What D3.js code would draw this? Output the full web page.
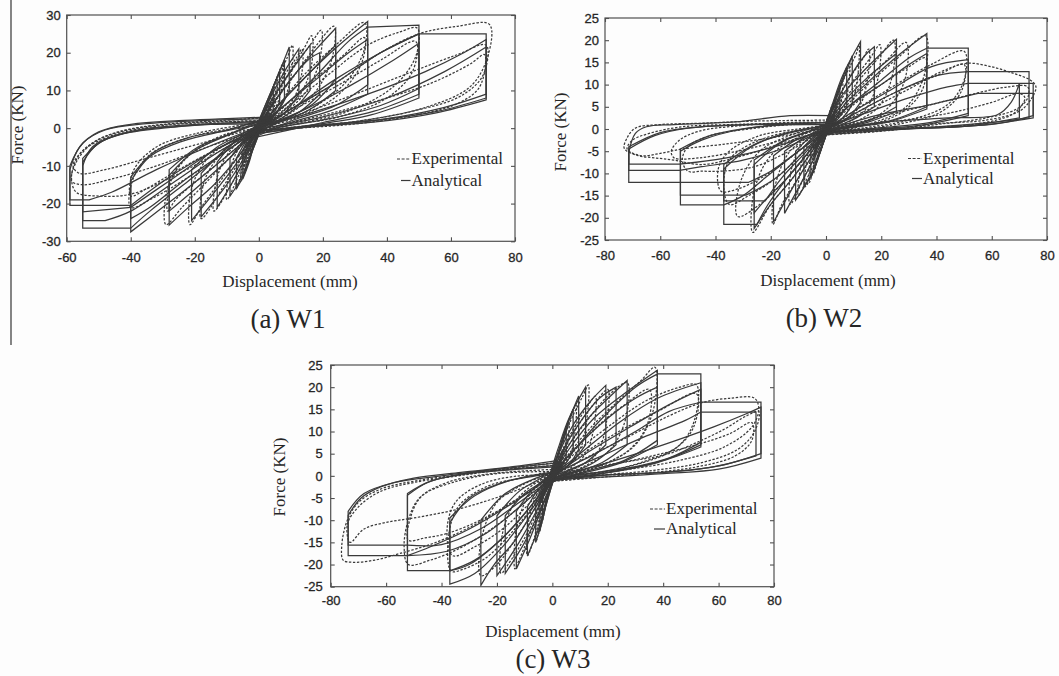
<!DOCTYPE html>
<html>
<head>
<meta charset="utf-8">
<script src="https://cdn.jsdelivr.net/npm/d3@7"></script>
<style>
  body { margin: 0; background: #fff; }
</style>
</head>
<body>
<script>
// tick values
var w1xTicks = [-60, -40, -20, 0, 20, 40, 60, 80];
var w1yTicks = [-30, -20, -10, 0, 10, 20, 30];
var w23xTicks = [-80, -60, -40, -20, 0, 20, 40, 60, 80];
var w23yTicks = [-25, -20, -15, -10, -5, 0, 5, 10, 15, 20, 25];

var panelTitles = ['(a) W1', '(b) W2', '(c) W3'];
var legendLabels = ['Experimental', 'Analytical'];
var xTitle = 'Displacement (mm)';
var yTitle = 'Force (KN)';

// each loop branch ("petal") = list of smooth pieces [x0,y0, x1,y1, ...] (mm, kN),
// pieces are joined by straight lines (unloading drops, plateaus)
var w1Analytical = [
  [[-4,-7, 1,3, 3,7, 4.5,11], [4.5,5, 3,2, 0,-1, -3,-4]],
  [[-5,-8, 1,4, 4,10, 6.5,15], [6.5,7, 4,3, 1,0, -3,-3]],
  [[-4,-6, 2,5, 5,12, 8,18], [8,8, 5,3.5, 1,0, -2,-3]],
  [[-3,-5, 2,6, 6,14, 9.5,21.5], [9.5,10, 6,4.5, 2,1, -2,-3]],
  [[-2,-3, 3,7, 8,15, 12.5,21], [12.5,9, 8,4, 3,1, -1,-2]],
  [[-4,-6, 3,6, 9,14, 16,22], [16,10, 11,5, 5,1.5, -2,-2]],
  [[-3,-4, 4,6, 10,13, 16,18.5, 19,20], [19,9, 13,4.5, 6,1.5, 0,-1]],
  [[-3,-3, 4,6, 11,14, 18,21, 24,26.5], [24,13, 17,6.5, 8,2.5, -1,-1.5]],
  [[-2,-1.5, 6,6, 14,13, 24,22], [24,10, 16,5, 8,2, 1,0.5]],
  [[-1,-1, 6,6, 15,14, 25,22, 34,28.3], [34,11.5, 24,6, 12,2.5, -2,-2]],
  [[-3,-2, 8,6, 18,13, 28,20, 34,23.5], [34,9, 22,4.5, 10,1.5, -3,-3]],
  [[-4,-2, 8,6, 18,14, 28,23, 34,26.8], [50,27.3], [50,10.5, 38,6, 22,2.5, 8,0.5, -1,-1]],
  [[-2,-1, 10,5, 24,12, 38,20, 50,25], [50,9, 36,4.5, 20,1.5, -4,-3]],
  [[-1,0, 12,4, 28,11, 42,18, 50,22.5], [50,8, 35,3.5, 18,1, -2,-1]],
  [[-3,-1, 10,5, 24,13, 38,20, 50,25], [71,25], [71,9, 58,5.5, 40,2.5, 20,0.8, -5,-2]],
  [[0,0.5, 16,4, 34,9, 52,15, 64,20, 71,23.5], [71,8, 56,4.5, 36,2, 18,0.5, -3,-1]],
  [[-2,-0.5, 20,3, 40,8, 58,15, 71,21.5], [71,7.5, 55,4, 35,1.5, 15,0.3, -6,-2]],
  [[4,7, -1,-3, -3,-8, -4,-11], [-4,-5, -2,-2, 1,1, 3,4]],
  [[5,8, -1,-3, -3,-9, -5,-13.5], [-5,-6, -3,-2.5, 1,1, 3,3]],
  [[3,5, -2,-6, -5,-13, -7,-16], [-7,-8, -4,-3.5, -1,-0.5, 2,3]],
  [[2,3, -2,-6, -6,-14, -9,-18], [-9,-8, -5,-3.5, -1,-0.5, 1,2]],
  [[4,6, -3,-6, -8,-14, -13,-21], [-13,-9, -8,-4, -3,-1, 2,2]],
  [[3,4, -4,-7, -10,-15, -18,-23.5], [-18,-12, -11,-6, -5,-2, 0,1]],
  [[2,2, -5,-7, -12,-15, -21,-24.5], [-21,-11, -13,-5, -5,-1.5, 1,1.5]],
  [[1,1.5, -6,-7, -14,-15, -22,-21, -28,-25.7], [-28,-12.5, -20,-6, -10,-2, 2,2]],
  [[0,1, -8,-7, -17,-14, -28,-22], [-28,-11, -19,-5, -9,-1.5, 3,3]],
  [[3,2, -8,-6, -18,-13, -30,-21, -40,-27.5], [-40,-14, -34,-7.5, -24,-3.5, -12,-1, 1,1]],
  [[4,2, -10,-6, -22,-13, -34,-21, -40,-24], [-40,-13, -33,-6.5, -22,-2.5, -10,-0.5, 4,3]],
  [[2,1, -10,-6, -22,-14, -34,-22, -40,-26.5], [-55,-26.5], [-55,-10, -52,-5, -45,-2, -30,0, -15,1, 2,1]],
  [[1,0, -12,-6, -26,-14, -40,-22, -48,-24.5], [-55,-24.5], [-55,-9, -50,-4, -40,-1, -25,0.5, 3,2]],
  [[3,1, -14,-6, -28,-14, -40,-21], [-55,-22.2], [-55,-8, -49,-3.5, -38,-0.5, -20,1, 1,1.5]],
  [[2,0.5, -14,-6, -28,-13, -40,-20.5], [-59,-20.5], [-59,-11, -56,-5, -50,-1, -40,1, -25,2, -10,2.5, 4,3]],
  [[5,2, -16,-5, -32,-11, -46,-17, -53,-19], [-59,-19], [-59,-10, -55,-4, -48,-0.5, -35,1.2, -18,2, 2,2.5]]
];

var w1Experimental = [
  [[-4,-6, 1,3, 4,9, 5.5,13, 5.5,8, 4,4, 1,0.5, -3,-4]],
  [[-5,-7, 2,5, 5,12, 7.5,17, 7,10, 5,5, 1,0.5, -2,-3]],
  [[-3,-4, 2,5, 6,13, 9,19, 10.5,22, 10.5,17, 9,10, 6,5, 2,1.5, -2,-2]],
  [[-2,-3, 3,6, 8,14, 12,19, 13.5,21, 13.5,15, 11,8, 7,4, 2,1, -3,-3]],
  [[-4,-5, 3,6, 9,14, 14,21, 16.5,24.5, 16.5,17, 13,9, 7,4, 2,1, -1,-2]],
  [[-2,-2, 4,7, 10,15, 16,22, 19.5,26, 19,18, 15,10, 8,4, 2,1, -2,-1]],
  [[-3,-3, 5,7, 12,15, 18,22, 23.5,27, 23,19, 18,10, 10,4, 3,1, 0,-1]],
  [[-1,-1, 6,6, 14,14, 24,22, 33,28, 33,21, 27,12, 16,5, 6,1.5, -3,-2]],
  [[-2,-2, 7,5, 16,12, 26,19, 33,24, 32,17, 25,9, 14,3.5, 5,1, -1,0]],
  [[-3,-2, 8,5, 20,13, 34,22, 44,25.5, 49.5,26.5, 49,19, 42,11, 28,4.5, 12,1.2, -2,-1]],
  [[0,0, 10,4.5, 24,11, 38,18, 49,23, 48,15, 40,8, 25,3, 10,0.8, -4,-2]],
  [[-2,-1, 10,5, 24,12, 38,20, 50,25, 62,27, 72,27.5, 71.5,19, 66,11, 52,5.5, 32,2, 14,0.5, -3,-1]],
  [[-1,0, 14,4, 30,9, 48,15, 62,19.5, 71,22, 70,14, 63,8.5, 48,4.5, 28,1.5, 10,0.2, -5,-2]],
  [[-3,-1, 18,3, 36,7, 54,12, 66,17, 70.5,19.5, 69,11, 62,6.5, 46,3, 26,0.8, -2,-0.5]],
  [[4,6, -1,-3, -3,-8, -4.5,-12, -4,-6, -2,-2, 1,1, 3,4]],
  [[5,7, -1,-3, -4,-10, -5.5,-14, -5,-7, -3,-3, 1,0.5, 2,3]],
  [[3,4, -2,-5, -5,-11, -7,-16, -6.5,-10, -4,-4.5, -1,-1, 2,2]],
  [[2,3, -2,-5, -6,-12, -10,-19, -9,-11, -6,-5, -2,-1, 3,3]],
  [[4,5, -3,-6, -8,-14, -14,-22, -13,-13, -9,-6, -3,-1.5, 1,1]],
  [[2,2, -4,-6, -10,-14, -18,-24, -17,-14, -12,-7, -5,-2, 2,1]],
  [[3,3, -5,-6, -12,-14, -18,-21, -21.5,-25.6, -21,-16, -16,-8, -7,-2.5, 0,1]],
  [[1,1, -7,-6, -16,-14, -24,-21, -29,-25.6, -28.5,-16, -23,-8, -12,-2.5, 3,2]],
  [[2,2, -8,-6, -18,-13, -26,-19, -28.5,-22, -27,-13, -20,-6, -10,-1.5, 1,0]],
  [[3,2, -10,-6, -22,-13, -33,-18.5, -40,-21, -39.5,-14, -34,-7, -22,-2.5, -10,-0.3, 2,1]],
  [[0,0, -12,-5, -25,-11, -35,-16, -40,-18, -39,-11, -32,-5, -20,-1.5, 4,2]],
  [[2,1, -12,-6, -26,-12.5, -40,-17.5, -50,-18, -57,-17, -58.5,-13, -56,-7, -50,-3, -38,0, -20,1.5, 3,2]],
  [[1,0, -16,-5, -32,-10, -46,-13.5, -55,-15, -58.5,-14, -57,-9, -52,-4, -44,-1, -30,1, -12,2, 5,3]],
  [[3,1, -18,-4, -35,-8, -48,-11, -56,-12, -58,-10, -55,-6, -46,-2, -32,0.5, -16,1.5, 2,2]]
];

var w2Analytical = [
  [[-4,-6, 1,3, 3,6, 5,10], [5,4, 3,1.5, 0,-1, -3,-4]],
  [[-5,-7, 1,3, 4,8, 7.5,14], [7.5,5, 4,2, 1,0, -3,-3]],
  [[-4,-5, 2,4, 5,9, 9.5,16.5], [9.5,5.5, 6,2.5, 1,0, -2,-3]],
  [[-3,-4, 2,5, 6,12, 12.5,19.7], [12.5,6, 8,2.5, 3,0.5, -2,-2]],
  [[-2,-3, 3,5, 8,11, 14,16.5, 17.5,18.5], [17.5,5, 11,2.5, 4,0.5, -1,-2]],
  [[-4,-5, 4,6, 12,12, 20,17, 25.5,20.2], [25.5,5, 16,2, 6,0.5, -2,-1]],
  [[-2,-2, 5,5, 14,11, 25.5,17], [25.5,4, 15,1.5, 5,0.2, 0,-1]],
  [[-1,-1, 6,5, 16,11, 27,17, 36.5,21.5], [36.5,5, 24,2, 10,0.5, -3,-2]],
  [[-3,-2, 8,5, 20,10, 30,14.5, 36.5,17], [36.5,4.5, 22,1.5, 8,0.3, -1,-1]],
  [[-2,-1, 8,5, 20,11, 30,16, 36.5,18.2], [51.5,18.2], [51.5,3.5, 38,1.5, 20,0.3, -3,-1]],
  [[0,0, 10,4, 24,9, 38,14, 51.5,15.6], [51.5,3, 36,1, 18,0, -2,-1]],
  [[-2,-1, 12,4, 26,8.5, 40,12, 51.5,12.9], [73.5,12.9], [73.5,2.5, 60,1.5, 40,0.5, 20,0, -4,-1]],
  [[-1,0, 14,3.5, 30,7, 44,9.5, 51.5,10.3], [75,10.3], [75,3, 62,1.2, 40,0.3, -2,-0.5]],
  [[-3,-1, 18,3, 38,5.5, 55,8], [75,8], [75,2.5, 55,0.8, 30,0, -5,-1.5]],
  [[-1,-0.5, 20,1.5, 44,2.5, 62,3.2, 67,6, 70,10.3], [70,2.5, 50,0.6, 25,0, -3,-1]],
  [[4,6, -1,-3, -3,-6, -4,-9], [-4,-4, -2,-1.5, 1,1, 3,4]],
  [[5,7, -1,-3, -3,-7, -5.5,-11], [-5.5,-4.5, -3,-2, 1,0.5, 3,3]],
  [[3,4, -2,-5, -5,-10, -8,-13], [-8,-4, -4,-1.5, 0,0, 2,3]],
  [[2,3, -2,-5, -6,-11, -11,-16], [-11,-5, -6,-2, -1,0, 1,2]],
  [[4,5, -3,-5, -8,-11, -15,-19], [-15,-5, -8,-2, -2,0, 2,1]],
  [[2,2, -4,-5, -10,-11, -19,-21], [-19,-6, -11,-2.5, -3,-0.5, 0,1]],
  [[1,1, -5,-5, -12,-11, -20,-17, -26,-22.4], [-26,-8, -16,-3, -6,-0.5, 3,2]],
  [[3,2, -6,-5, -14,-11, -22,-16, -26,-18.9], [-26,-7, -15,-2.5, -5,-0.3, 1,1]],
  [[2,1, -6,-5, -14,-11, -21,-17, -25,-21.5], [-37,-21.5], [-37,-9, -27,-4, -15,-1, 3,1]],
  [[0,0, -7,-5, -16,-11, -22,-16.2], [-37,-16.2], [-37,-8, -26,-3.5, -14,-1, 2,1]],
  [[2,1, -8,-5, -18,-11, -29,-14.9], [-52.7,-14.9], [-52.7,-5, -45,-2.5, -30,0, -15,1, 4,1.5]],
  [[1,0, -10,-5, -22,-11, -30,-15, -37,-17.1], [-52.7,-17.1], [-52.7,-4.5, -42,-1.5, -25,0.5, -10,1, 2,1]],
  [[3,1, -10,-5, -20,-9.5, -28,-12], [-71.4,-12], [-71.4,-5.3, -69,-1, -65,0.5, -55,1, -33,1.6, -13,3, 2,3]],
  [[1,0.5, -14,-4, -30,-7, -45,-8.5, -53,-9.3], [-71.4,-9.3], [-71.4,-4.5, -62,-1.5, -50,0.2, -30,1, 3,1.5]],
  [[4,1, -16,-3.5, -36,-6.5, -53,-7.9], [-71.4,-7.9], [-71.4,-4, -60,-0.8, -45,0.5, -25,1, 1,1]]
];

var w2Experimental = [
  [[-4,-5, 1,3, 4,7, 6,11, 5.5,6, 4,3, 1,0, -3,-4]],
  [[-5,-6, 2,4, 5,9, 8.5,15, 8,9, 6,4, 1,0.5, -2,-3]],
  [[-3,-4, 2,5, 7,12, 11,17, 12,19, 11.5,12, 9,5, 5,2, 1,0.5, -2,-2]],
  [[-2,-3, 3,5, 8,11, 13,15.5, 15.5,18, 15,11, 12,5, 6,1.5, 1,0.3, -3,-2]],
  [[-4,-4, 4,5, 10,11, 16,16, 19.5,19, 19,12, 15,5, 8,1.5, 2,0.3, -1,-1]],
  [[-1,-1, 5,5, 12,11, 19,16, 24.5,20, 24,12, 19,5, 10,1.5, 3,0.2, -2,-1]],
  [[-2,-2, 6,5, 14,10.5, 22,15.5, 29,19.5, 28.5,11, 22,4.5, 12,1.2, 0,-0.5]],
  [[0,0, 7,5, 16,10.5, 26,16, 36,21, 35.5,12, 29,5, 16,1.2, -3,-1.5]],
  [[-3,-2, 8,4.5, 20,10, 30,14, 36,16, 35,9, 28,4, 16,1, -1,0]],
  [[-1,-1, 10,4, 24,9.5, 38,14.5, 50,17.5, 50,11, 44,5.5, 30,2, 14,0.3, -2,-1]],
  [[-2,-1, 12,4, 26,8.5, 40,12, 50,14.5, 49,8.5, 42,4, 28,1.3, -4,-1]],
  [[-1,0, 14,4, 30,9, 42,13, 51,14.8, 60,14, 68,12.5, 74,11, 76,9.5, 74,6.5, 70,4, 58,2, 40,1.2, 22,-0.3, -2,-1]],
  [[-3,-1, 18,2.5, 38,5.5, 54,8, 66,9.5, 73,9.5, 73,7, 69,4.5, 58,2.5, 40,1, 20,-0.5, -5,-1.5]],
  [[-2,-0.5, 22,1.5, 44,3.5, 60,6, 70,8, 72,7, 68,3.5, 55,1.2, 35,0.3, 15,-0.5, -3,-1]],
  [[4,5, -1,-3, -3,-6, -4.5,-10, -4,-5, -2,-2, 1,1, 3,4]],
  [[5,6, -1,-3, -4,-8, -6,-12, -5.5,-6, -3,-2.5, 1,0.5, 2,3]],
  [[3,4, -2,-5, -5,-10, -7.5,-13, -7,-7, -5,-3, -1,-0.5, 2,2]],
  [[2,3, -2,-5, -6,-10, -10,-15, -9,-8, -6,-3, -1,-0.5, 3,2]],
  [[4,4, -3,-5, -8,-11, -13,-17, -12.5,-9, -8,-3, -2,-0.5, 1,1]],
  [[1,1, -4,-5, -10,-11, -16,-17, -19.2,-21.5, -18.5,-13, -13,-5, -4,-1, 2,1]],
  [[2,2, -5,-5, -12,-11, -20,-17, -26.5,-23.3, -26,-14, -20,-6, -9,-1.5, 0,0.5]],
  [[0,0, -6,-5, -14,-11, -24,-17, -32,-19.7, -31,-12, -24,-5, -12,-1.2, 3,1.5]],
  [[3,2, -8,-5, -18,-11, -28,-15, -35,-17, -37,-13, -35,-7, -26,-3, -12,-0.5, 1,0]],
  [[1,1, -10,-5, -22,-10.5, -32,-13.5, -38,-14, -39,-9, -35,-5, -24,-1.5, -10,0, 2,1]],
  [[2,1, -12,-4.5, -26,-8.5, -38,-9.5, -45,-9.5, -50,-9.5, -52,-7, -50,-4, -42,-1.5, -28,0, -12,1, 4,1]],
  [[1,0, -15,-3, -30,-6, -45,-8, -55,-7, -62,-6.5, -68,-6, -73,-4.4, -72,-2, -69,0.2, -60,1, -45,1.3, -25,1.8, 2,2]],
  [[3,1, -16,-2.5, -32,-5, -46,-6.5, -55,-6.5, -56,-5, -53,-2.5, -46,-0.5, -30,0.8, -12,1.5, 5,1.5]],
  [[2,0.5, -20,-2, -38,-3.5, -52,-4.5, -60,-5.5, -67,-6, -72,-4.5, -70,-2.5, -64,-1, -52,0.5, -35,1, 3,1.5]]
];

var w3Analytical = [
  [[-4,-6, 1,3, 3,6.5, 5,11], [5,4.5, 3,1.5, 0,-1, -3,-4]],
  [[-5,-7, 1,3, 4,9, 7.5,15], [7.5,5.5, 4,2, 1,0, -3,-3]],
  [[-4,-5, 2,5, 5,11, 9.5,18], [9.5,6, 6,2.5, 1,0, -2,-3]],
  [[-3,-4, 2,6, 6,13, 12,20], [12,7, 7,3, 2,0.5, -2,-2]],
  [[-2,-3, 3,6, 8,12, 14,17, 19.3,20.4], [19.3,7, 12,3, 4,0.5, -1,-2]],
  [[-4,-5, 4,6, 11,13, 17,17.5, 23,20], [23,7, 15,3, 6,0.5, -2,-1]],
  [[-2,-2, 5,6, 13,13, 21,18, 27,21.5], [27,7, 18,3, 7,0.5, 0,-1]],
  [[-1,-1, 6,6, 15,13, 27,19, 37.9,23.8], [37.9,8, 26,3.5, 12,1, -3,-2]],
  [[-3,-2, 8,6, 20,13, 30,17.5, 37.9,20], [37.9,7, 25,3, 10,0.5, -1,-1]],
  [[-2,-1, 8,6, 18,13, 30,20, 38,23], [53.6,23], [53.6,7.6, 42,4, 25,1.5, 10,0.3, -3,-1]],
  [[0,0, 10,5, 24,12, 38,17.5, 53.6,21], [53.6,7, 40,3.5, 22,1, -2,-1]],
  [[-2,-1, 12,5, 28,11, 42,16, 53.6,19.5], [53.6,6.5, 38,3, 20,0.7, -4,-1.5]],
  [[-1,0, 14,4.5, 30,10, 42,14.5, 53.6,16.6], [75.3,16.6], [75.3,5, 62,2.5, 45,1, 25,0.4, -2,-0.5]],
  [[-3,-1, 16,4, 34,9, 48,12.5, 53.6,14.4], [73.5,14.4], [73.5,4.5, 58,2, 40,0.8, 20,0.2, -5,-1.5]],
  [[-1,-0.5, 20,3, 40,7, 58,11, 70,14, 75.3,15.5], [75.3,4, 60,1.5, 40,0.5, -3,-1]],
  [[4,6, -1,-3, -2.5,-7, -3.5,-10], [-3.5,-4, -2,-1.5, 1,1, 3,4]],
  [[5,7, -1,-3, -3,-8, -4.5,-12.5], [-4.5,-5, -2.5,-2, 1,0.5, 3,3]],
  [[3,4, -2,-6, -4,-11, -6,-15], [-6,-6, -3.5,-2.5, -1,-0.5, 2,3]],
  [[2,3, -2,-6, -5,-12, -9,-18], [-9,-7, -5,-3, -1,-0.5, 1,2]],
  [[4,5, -3,-6, -8,-14, -13,-21], [-13,-8, -7,-3, -2,-0.5, 2,1]],
  [[2,2, -4,-7, -10,-15, -17,-22], [-17,-9, -10,-4, -3,-1, 0,1]],
  [[1,1, -5,-7, -12,-15, -20,-22.5], [-20,-9, -12,-3.5, -4,-0.5, 3,2]],
  [[3,2, -6,-7, -14,-15, -21,-20, -25.8,-24.7], [-25.8,-10, -17,-4, -7,-0.8, 1,1]],
  [[2,1, -8,-8, -18,-16, -28,-22, -37,-24.4], [-37,-10.6, -30,-5, -18,-1.5, -6,0, 3,1]],
  [[0,0, -8,-7, -18,-14, -28,-19, -37,-21.4], [-37,-9.5, -28,-4.5, -16,-1.2, 2,1]],
  [[2,1, -8,-7, -18,-14, -30,-20, -37,-21.4], [-52.3,-21.4], [-52.3,-4.4, -45,-1.5, -32,0.5, -15,1.5, 4,2.5]],
  [[1,0, -10,-6, -24,-13, -38,-17, -52.3,-18], [-52.3,-4, -44,-1.2, -30,0.5, -12,1.5, 2,2]],
  [[3,1, -12,-6, -26,-12, -40,-15.5, -52.3,-15.6], [-73.7,-15.6], [-73.7,-8.9, -69,-5, -62,-2.5, -50,-0.5, -33,0.8, -15,2, 2,3.5]],
  [[1,0.5, -14,-6, -30,-12, -44,-16, -52.3,-18], [-73.7,-18], [-73.7,-8, -68,-4, -57,-1.5, -40,0, -20,1.5, 3,3]]
];

var w3Experimental = [
  [[-4,-5, 1,3, 4,8, 6,12, 5.5,7, 4,3, 1,0, -3,-4]],
  [[-5,-6, 2,4, 5,10, 8.5,16, 8,9, 6,4, 1,0.5, -2,-3]],
  [[-3,-4, 2,5, 7,13, 11,18, 13,20.5, 12.5,13, 10,6, 5,2, 1,0.5, -2,-2]],
  [[-2,-3, 3,5, 8,11, 13,16, 15.5,18, 15,11, 12,5, 6,1.5, -3,-2]],
  [[-4,-4, 4,6, 10,12, 16,17, 20,19.5, 19.5,12, 16,5, 8,1.5, -1,-1]],
  [[-1,-1, 5,6, 12,12, 20,18, 27,21, 26.5,13, 21,6, 11,2, -2,-1]],
  [[-2,-2, 6,5, 14,11, 24,17, 32,21.5, 37,24.5, 36.5,15, 30,7, 18,2.5, 6,0.5, 0,-0.5]],
  [[0,0, 7,5, 16,11, 26,16, 35,19.5, 34.5,12, 28,6, 16,2, -3,-1.5]],
  [[-3,-2, 8,5, 20,11, 34,17, 46,20, 52,20.5, 51.5,13, 46,7, 32,3, 16,0.8, -1,0]],
  [[-1,-1, 10,4.5, 24,10, 38,14.5, 52,18.5, 51,11, 44,6, 30,2.5, -2,-1]],
  [[-2,-1, 12,4, 28,9, 42,13.5, 54,16.5, 64,17.5, 73,17.5, 74.5,15, 72,11, 62,6.5, 46,3.5, 28,1.5, 12,0.3, -4,-1]],
  [[-1,0, 15,2, 30,3.5, 42,5, 52,7.5, 62,10.5, 70,13.5, 74.5,14.5, 73,10, 67,6, 54,3, 36,1.2, 18,0.2, -2,-1]],
  [[-3,-1, 18,2, 36,4.5, 52,7, 64,9.5, 72,12, 72,8, 66,4.5, 52,2, 32,0.5, -5,-1.5]],
  [[4,5, -1,-3, -2.5,-7, -4,-11, -3.5,-5, -2,-2, 1,1, 3,4]],
  [[5,6, -1,-3, -3,-8, -5,-13, -4.5,-6, -2.5,-2.5, 1,0.5, 2,3]],
  [[3,4, -2,-5, -4,-10, -6,-15, -5.5,-8, -3.5,-3, -1,-0.5, 2,2]],
  [[2,3, -2,-5, -5,-11, -9,-18, -8.5,-10, -5.5,-4, -1,-0.5, 3,2]],
  [[4,4, -3,-6, -8,-13, -12,-19, -13.5,-21, -13,-12, -9,-5, -3,-1, 1,1]],
  [[1,1, -4,-6, -10,-14, -16,-20, -18.5,-22, -18,-13, -13,-5.5, -5,-1.2, 2,1]],
  [[2,2, -5,-6, -12,-13, -20,-20, -25.8,-22.5, -25.5,-14, -20,-6, -9,-1.5, 0,0.5]],
  [[0,0, -6,-6, -15,-13, -24,-18.5, -32,-21, -36.5,-21.5, -37.5,-14, -34,-7, -24,-2.5, -10,-0.3, 3,1.5]],
  [[3,2, -8,-6, -18,-12, -28,-16, -36,-18, -38,-12, -35,-6, -26,-2, -12,0, 1,0]],
  [[1,1, -10,-6, -22,-12, -34,-16.5, -44,-19, -52,-20, -53.5,-16, -52,-10, -48,-5, -38,-1.5, -22,0.5, 2,1.5]],
  [[2,1, -12,-5, -26,-10, -38,-13, -46,-14, -52,-14.5, -51,-9, -47,-4.5, -36,-1.5, -20,0.5, 4,1]],
  [[1,0, -12,-5, -28,-11, -42,-15, -55,-17.5, -64,-19, -72,-19.5, -75.5,-19, -76,-15.7, -74,-10, -70,-6, -62,-3, -48,-1, -30,0.5, -12,2, 2,3]],
  [[3,1, -16,-4, -34,-7.5, -50,-9.5, -60,-10.5, -68,-12, -73,-15, -74,-11, -70,-7, -62,-3.5, -50,-1.5, -34,0, -16,1.5, 4,2.5]]
];

var svg_width = 1059;
var svg_height = 676;
var lineColor = '#3a3a3a';
var textColor = '#262626';
var serif = '"Liberation Serif", "Times New Roman", serif';
var sans = '"Liberation Sans", Arial, sans-serif';

var svg = d3.select('body')
            .append('svg')
            .attr('width', svg_width)
            .attr('height', svg_height);

svg.append('rect')
   .attr('width', svg_width)
   .attr('height', svg_height)
   .attr('fill', '#fdfdfd');

// page edge line at the left of panel (a)
svg.append('line')
   .attr('x1', 11).attr('x2', 11)
   .attr('y1', 0).attr('y2', 345)
   .attr('stroke', '#444')
   .attr('stroke-width', 1.3);

var smooth = d3.line().curve(d3.curveCatmullRom.alpha(0.5));

function petalPath(petal, x, y) {
  return petal.map(function(piece, i) {
    var pts = d3.range(0, piece.length, 2).map(function(j) {
      return [x(piece[j]), y(piece[j + 1])];
    });
    var s = smooth(pts).replace(/Z$/, '');
    return i === 0 ? s : s.replace(/^M/, 'L');
  }).join('');
}

function drawPanel(p) {
  var x = d3.scaleLinear().domain(d3.extent(p.xTicks)).range([p.left, p.right]);
  var y = d3.scaleLinear().domain(d3.extent(p.yTicks)).range([p.bottom, p.top]);
  var g = svg.append('g');

  svg.append('clipPath')
     .attr('id', 'clip' + p.id)
     .append('rect')
     .attr('x', p.left).attr('y', p.top)
     .attr('width', p.right - p.left)
     .attr('height', p.bottom - p.top);

  var curves = g.append('g').attr('clip-path', 'url(#clip' + p.id + ')');

  curves.selectAll('path.exp')
        .data(p.experimental)
        .enter().append('path')
        .attr('class', 'exp')
        .attr('d', function(d) { return petalPath(d, x, y); })
        .attr('fill', 'none')
        .attr('stroke', lineColor)
        .attr('stroke-width', 1.25)
        .attr('stroke-dasharray', '2.4,1.6');

  curves.selectAll('path.ana')
        .data(p.analytical)
        .enter().append('path')
        .attr('class', 'ana')
        .attr('d', function(d) { return petalPath(d, x, y); })
        .attr('fill', 'none')
        .attr('stroke', lineColor)
        .attr('stroke-width', 1.25);

  // frame
  g.append('rect')
   .attr('x', p.left).attr('y', p.top)
   .attr('width', p.right - p.left)
   .attr('height', p.bottom - p.top)
   .attr('fill', 'none')
   .attr('stroke', '#505050')
   .attr('stroke-width', 1.2);

  function styleAxis(a) {
    a.select('.domain').remove();
    a.selectAll('line').attr('stroke', '#505050').attr('stroke-width', 1.1);
    a.attr('font-family', sans).attr('font-size', 13);
    a.selectAll('text').attr('fill', textColor)
     .attr('stroke', textColor).attr('stroke-width', 0.3);
  }

  g.append('g')
   .attr('transform', 'translate(0,' + p.bottom + ')')
   .call(d3.axisBottom(x).tickValues(p.xTicks).tickSizeInner(-4).tickSizeOuter(0)
           .tickPadding(p.xPad).tickFormat(function(d) { return d; }))
   .call(styleAxis);
  g.append('g')
   .attr('transform', 'translate(0,' + p.top + ')')
   .call(d3.axisTop(x).tickValues(p.xTicks).tickSizeInner(-4).tickSizeOuter(0).tickFormat(''))
   .call(styleAxis);
  g.append('g')
   .attr('transform', 'translate(' + p.left + ',0)')
   .call(d3.axisLeft(y).tickValues(p.yTicks).tickSizeInner(-4).tickSizeOuter(0)
           .tickPadding(p.yPad).tickFormat(function(d) { return d; }))
   .call(styleAxis);
  g.append('g')
   .attr('transform', 'translate(' + p.right + ',0)')
   .call(d3.axisRight(y).tickValues(p.yTicks).tickSizeInner(-4).tickSizeOuter(0).tickFormat(''))
   .call(styleAxis);

  // axis titles
  g.append('text')
   .attr('x', p.xLabel[0]).attr('y', p.xLabel[1])
   .attr('text-anchor', 'middle')
   .attr('font-family', serif).attr('font-size', 17)
   .attr('fill', textColor)
   .text(xTitle);
  g.append('text')
   .attr('transform', 'translate(' + p.yLabel[0] + ',' + p.yLabel[1] + ') rotate(-90)')
   .attr('dy', '0.35em')
   .attr('text-anchor', 'middle')
   .attr('font-family', serif).attr('font-size', 17)
   .attr('fill', textColor)
   .text(yTitle);

  // panel caption
  g.append('text')
   .attr('x', p.title[0]).attr('y', p.title[1])
   .attr('text-anchor', 'middle')
   .attr('font-family', serif).attr('font-size', 27)
   .attr('fill', textColor)
   .text(panelTitles[p.id]);

  // legend
  legendLabels.forEach(function(label, i) {
    var ly = p.legend[1] + i * p.legend[3];
    g.append('line')
     .attr('x1', p.legend[0] + (i === 0 ? 0 : 4)).attr('x2', p.legend[2] - 1)
     .attr('y1', ly).attr('y2', ly)
     .attr('stroke', lineColor)
     .attr('stroke-width', 1.2)
     .attr('stroke-dasharray', i === 0 ? '3,1.6' : null);
    g.append('text')
     .attr('x', p.legend[2]).attr('y', ly)
     .attr('dy', '0.32em')
     .attr('font-family', serif).attr('font-size', 17)
     .attr('fill', textColor)
     .text(label);
  });
}

drawPanel({
  id: 0, xTicks: w1xTicks, yTicks: w1yTicks,
  analytical: w1Analytical, experimental: w1Experimental,
  left: 66.7, right: 515, top: 15, bottom: 241.3,
  xPad: 11, yPad: 6,
  xLabel: [290, 287], yLabel: [17.5, 125], title: [288, 328],
  legend: [397, 159, 411.5, 21.5]
});

drawPanel({
  id: 1, xTicks: w23xTicks, yTicks: w23yTicks,
  analytical: w2Analytical, experimental: w2Experimental,
  left: 605, right: 1047, top: 18, bottom: 240,
  xPad: 11, yPad: 6,
  xLabel: [828, 286], yLabel: [560, 132], title: [824, 327],
  legend: [908, 158.5, 923, 20]
});

drawPanel({
  id: 2, xTicks: w23xTicks, yTicks: w23yTicks,
  analytical: w3Analytical, experimental: w3Experimental,
  left: 330.7, right: 774, top: 365, bottom: 586.7,
  xPad: 9, yPad: 8,
  xLabel: [553, 637], yLabel: [279, 477], title: [553, 668],
  legend: [650, 509, 666, 20]
});
</script>
</body>
</html>
